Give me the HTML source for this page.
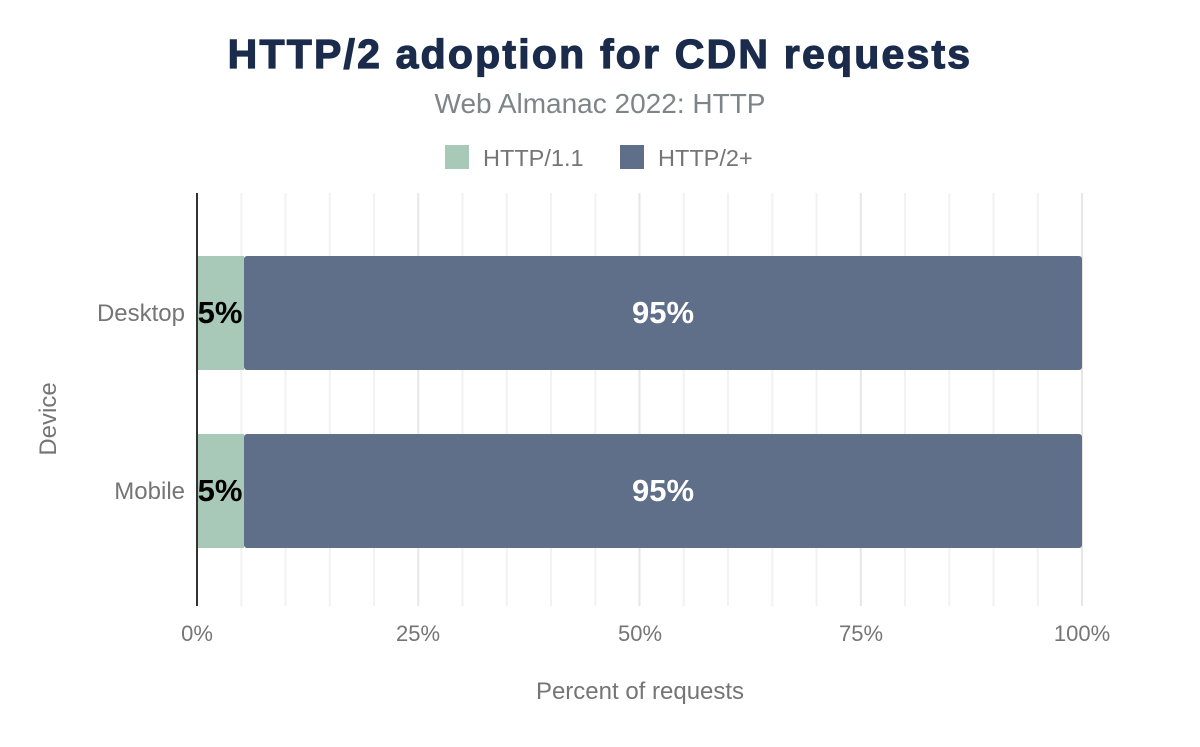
<!DOCTYPE html>
<html><head><meta charset="utf-8"><style>
body{margin:0;background:#fff;width:1200px;height:742px;overflow:hidden}
</style></head><body>
<svg width="1200" height="742" xmlns="http://www.w3.org/2000/svg" font-family="Liberation Sans, Arial, sans-serif">
<text x="600" y="68" text-anchor="middle" font-size="41" font-weight="bold" fill="#1a2b4b" stroke="#1a2b4b" stroke-width="1.2" letter-spacing="2.2">HTTP/2 adoption for CDN requests</text>
<text x="600" y="113" text-anchor="middle" font-size="28" fill="#7d8588">Web Almanac 2022: HTTP</text>
<rect x="445" y="145" width="24" height="24" fill="#a8c8b8"/>
<text x="483" y="166" font-size="23.5" fill="#757575">HTTP/1.1</text>
<rect x="620" y="145" width="24" height="24" fill="#5f6f89"/>
<text x="658" y="166" font-size="23.5" fill="#757575">HTTP/2+</text>
<g stroke="#f2f2f2" stroke-width="2">
<line x1="241.3" y1="193" x2="241.3" y2="606"/><line x1="285.5" y1="193" x2="285.5" y2="606"/><line x1="329.8" y1="193" x2="329.8" y2="606"/><line x1="374" y1="193" x2="374" y2="606"/>
<line x1="462.5" y1="193" x2="462.5" y2="606"/><line x1="506.8" y1="193" x2="506.8" y2="606"/><line x1="551" y1="193" x2="551" y2="606"/><line x1="595.3" y1="193" x2="595.3" y2="606"/>
<line x1="683.8" y1="193" x2="683.8" y2="606"/><line x1="728" y1="193" x2="728" y2="606"/><line x1="772.3" y1="193" x2="772.3" y2="606"/><line x1="816.5" y1="193" x2="816.5" y2="606"/>
<line x1="905" y1="193" x2="905" y2="606"/><line x1="949.3" y1="193" x2="949.3" y2="606"/><line x1="993.5" y1="193" x2="993.5" y2="606"/><line x1="1037.8" y1="193" x2="1037.8" y2="606"/>
</g>
<g stroke="#e6e6e6" stroke-width="2">
<line x1="418.3" y1="193" x2="418.3" y2="606"/><line x1="639.5" y1="193" x2="639.5" y2="606"/><line x1="860.8" y1="193" x2="860.8" y2="606"/><line x1="1082" y1="193" x2="1082" y2="606"/>
</g>
<rect x="197" y="256" width="47" height="114" fill="#a8c8b8"/>
<rect x="244" y="256" width="838" height="114" rx="3" fill="#5f6f89"/>
<rect x="197" y="434" width="47" height="114" fill="#a8c8b8"/>
<rect x="244" y="434" width="838" height="114" rx="3" fill="#5f6f89"/>
<line x1="197" y1="193" x2="197" y2="606" stroke="#333" stroke-width="2"/>
<g font-size="31" font-weight="bold">
<text x="220" y="323" text-anchor="middle" fill="#000">5%</text>
<text x="663" y="323" text-anchor="middle" fill="#fff">95%</text>
<text x="220" y="501" text-anchor="middle" fill="#000">5%</text>
<text x="663" y="501" text-anchor="middle" fill="#fff">95%</text>
</g>
<g font-size="22" fill="#757575">
<text x="197" y="641" text-anchor="middle">0%</text>
<text x="418" y="641" text-anchor="middle">25%</text>
<text x="640" y="641" text-anchor="middle">50%</text>
<text x="861" y="641" text-anchor="middle">75%</text>
<text x="1082" y="641" text-anchor="middle">100%</text>
</g>
<g font-size="24" fill="#757575">
<text x="185" y="321" text-anchor="end">Desktop</text>
<text x="185" y="499" text-anchor="end">Mobile</text>
<text x="640" y="699" text-anchor="middle">Percent of requests</text>
<text transform="translate(56,419) rotate(-90)" text-anchor="middle">Device</text>
</g>
</svg>
</body></html>
